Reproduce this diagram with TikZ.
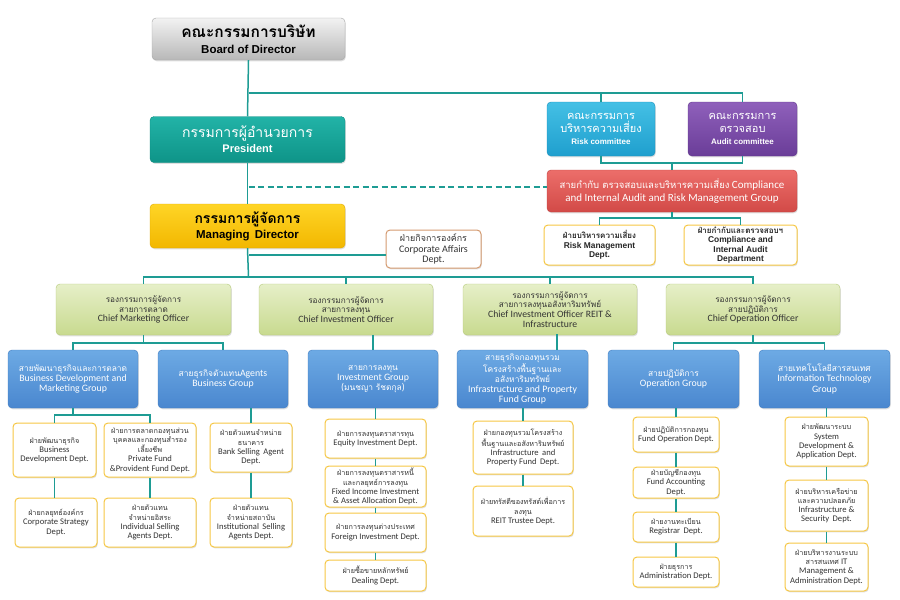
\documentclass[tikz,border=0pt]{standalone}
\usepackage{fontspec}
\setmainfont{Carlito}
\newfontfamily\thai[Script=Thai]{Loma}
\newfontfamily\tah{Liberation Sans}
\usetikzlibrary{shadows}
\newcommand\fs[2]{\fontsize{#1}{#2}\selectfont}
\def\thsz{7}\def\thbs{9}
\newcommand\thx[1]{{\thai\fontsize{\thsz}{\thbs}\selectfont #1}}
\definecolor{lineteal}{HTML}{1E9C94}
\definecolor{yb}{HTML}{F6C744}
\definecolor{presT}{HTML}{22B3A7}
\definecolor{presB}{HTML}{0E9488}
\definecolor{presD}{HTML}{0C8A80}
\definecolor{mdT}{HTML}{FFD526}
\definecolor{mdB}{HTML}{F2B700}
\definecolor{mdD}{HTML}{E0A800}
\definecolor{rkT}{HTML}{44C0E5}
\definecolor{rkB}{HTML}{1F9FCE}
\definecolor{rkD}{HTML}{1B90BC}
\definecolor{auT}{HTML}{8F60BB}
\definecolor{auB}{HTML}{6A3D98}
\definecolor{auD}{HTML}{5E358A}
\definecolor{coT}{HTML}{EC6E6A}
\definecolor{coB}{HTML}{D24A47}
\definecolor{coD}{HTML}{C04140}
\definecolor{grT}{HTML}{E6EFC8}
\definecolor{grB}{HTML}{C8DA8F}
\definecolor{grD}{HTML}{B5C97A}
\definecolor{blT}{HTML}{6DAAE4}
\definecolor{blB}{HTML}{4A87CF}
\definecolor{blD}{HTML}{3F7BC0}
\definecolor{caD}{HTML}{D49A70}
\tikzset{
  conn/.style={draw=lineteal, line width=1.5pt},
  base/.style={rounded corners=4pt, align=center, inner sep=1pt,
    drop shadow={opacity=0.25, shadow xshift=0.8pt, shadow yshift=-1.3pt}},
  boardbox/.style={base, top color=black!5, bottom color=black!28, draw=black!35,
    font=\tah\bfseries\fs{11.5}{14}},
  presbox/.style={base, top color=presT, bottom color=presB, draw=presD, text=white,
    font=\tah\bfseries\fs{11}{14}},
  mdbox/.style={base, top color=mdT, bottom color=mdB, draw=mdD,
    font=\tah\bfseries\fs{11.5}{14}},
  riskbox/.style={base, top color=rkT, bottom color=rkB, draw=rkD, text=white,
    font=\tah\bfseries\fs{8}{12.5}},
  auditbox/.style={base, top color=auT, bottom color=auB, draw=auD, text=white,
    font=\tah\bfseries\fs{8}{12.5}},
  compbox/.style={base, top color=coT, bottom color=coB, draw=coD, text=white,
    font=\fs{11}{12.5}\def\thsz{9.5}\def\thbs{12.5}},
  rdept/.style={base, fill=white, draw=yb, line width=1pt, text=black!85,
    font=\tah\bfseries\fs{8.4}{9.3}\def\thsz{8}\def\thbs{9.3}},
  greenbox/.style={base, top color=grT, bottom color=grB, draw=grD, text=black!80,
    font=\fs{9.7}{9.8}\def\thsz{8.2}\def\thbs{9.8}},
  bluebox/.style={base, top color=blT, bottom color=blB, draw=blD, text=white,
    font=\fs{9.8}{10.2}\def\thsz{8.4}\def\thbs{10.2}},
  deptbox/.style={base, fill=white, draw=yb, line width=1pt, text=black!80,
    font=\fs{8.6}{9.2}\def\thsz{7.2}\def\thbs{9.2}},
  cabox/.style={base, fill=white, draw=caD, line width=1pt, text=black!80,
    font=\fs{10}{10.8}\def\thsz{8.9}\def\thbs{10.8}},
}
\begin{document}
\begin{tikzpicture}[x=1pt,y=-1pt]
\useasboundingbox (0,0) rectangle (900,600);
% ---- top level
\node[boardbox, minimum width=193, minimum height=42] (board) at (248.5,39)
  {{\thai\bfseries\fs{15.5}{17}คณะกรรมการบริษัท}\\[2.5pt]Board of Director};
\node[presbox, minimum width=195, minimum height=46] (pres) at (247.5,139.5)
  {{\thai\mdseries\fs{14}{16}กรรมการผู้อำนวยการ}\\[1pt]President};
\node[mdbox, minimum width=195, minimum height=44] (md) at (247.5,226)
  {{\thai\bfseries\fs{14}{16}กรรมการผู้จัดการ}\\[1pt]Managing\, Director};
\node[cabox, minimum width=95, minimum height=38] (ca) at (433.5,249)
  {\thx{ฝ่ายกิจการองค์กร}\\Corporate Affairs\\Dept.};
\node[riskbox, minimum width=108, minimum height=54] (risk) at (601,129)
  {{\thai\mdseries\fs{11}{12}คณะกรรมการ}\\{\thai\mdseries\fs{11}{12}บริหารความเสี่ยง}\\Risk committee};
\node[auditbox, minimum width=109, minimum height=54] (audit) at (742.5,129)
  {{\thai\mdseries\fs{11}{12}คณะกรรมการ}\\{\thai\mdseries\fs{11}{12}ตรวจสอบ}\\Audit committee};
\node[compbox, minimum width=250, minimum height=42] (comp) at (672,191)
  {\thx{สายกำกับ ตรวจสอบและบริหารความเสี่ยง} Compliance\\and Internal Audit and Risk Management Group};
\node[rdept, minimum width=111, minimum height=40] (rmd) at (599.5,245)
  {\thx{ฝ่ายบริหารความเสี่ยง}\\Risk Management\\Dept.};
\node[rdept, minimum width=113, minimum height=40] (cad) at (740.5,245)
  {\thx{ฝ่ายกำกับและตรวจสอบฯ}\\Compliance and\\Internal Audit\\Department};
% ---- level 2
\node[greenbox, minimum width=175, minimum height=51] (cmo) at (143.5,309.5)
  {\thx{รองกรรมการผู้จัดการ}\\\thx{สายการตลาด}\\Chief Marketing Officer};
\node[greenbox, minimum width=174, minimum height=51] (cio) at (346,309.5)
  {\thx{รองกรรมการผู้จัดการ}\\\thx{สายการลงทุน}\\Chief Investment Officer};
\node[greenbox, minimum width=174, minimum height=51] (reit) at (550,309.5)
  {\thx{รองกรรมการผู้จัดการ}\\\thx{สายการลงทุนอสังหาริมทรัพย์}\\Chief Investment Officer REIT \&\\Infrastructure};
\node[greenbox, minimum width=174, minimum height=51] (coo) at (753,309.5)
  {\thx{รองกรรมการผู้จัดการ}\\\thx{สายปฏิบัติการ}\\Chief Operation Officer};
% ---- level 3
\node[bluebox, minimum width=130, minimum height=58] (bdm) at (73,379)
  {\thx{สายพัฒนาธุรกิจและการตลาด}\\Business Development and\\Marketing Group};
\node[bluebox, minimum width=130, minimum height=58] (agb) at (223,379)
  {\thx{สายธุรกิจตัวแทน}Agents\\Business Group};
\node[bluebox, minimum width=130, minimum height=58] (inv) at (373,379)
  {\thx{สายการลงทุน}\\Investment Group\\(\thx{มนชญา รัชตกุล})};
\node[bluebox, minimum width=131, minimum height=58] (ipg) at (522.5,379)
  {\thx{สายธุรกิจกองทุนรวม}\\\thx{โครงสร้างพื้นฐานและ}\\\thx{อสังหาริมทรัพย์}\\Infrastructure and Property\\Fund Group};
\node[bluebox, minimum width=131, minimum height=58] (opg) at (673.5,379)
  {\thx{สายปฏิบัติการ}\\Operation Group};
\node[bluebox, minimum width=131, minimum height=58] (itg) at (824.5,379)
  {\thx{สายเทคโนโลยีสารสนเทศ}\\Information Technology\\Group};
% ---- level 4
\node[deptbox, minimum width=83, minimum height=54] (bdd) at (54.5,450)
  {\thx{ฝ่ายพัฒนาธุรกิจ}\\Business\\Development Dept.};
\node[deptbox, minimum width=92, minimum height=54] (pfd) at (150,450)
  {\thx{ฝ่ายการตลาดกองทุนส่วน}\\\thx{บุคคลและกองทุนสำรอง}\\\thx{เลี้ยงชีพ}\\Private Fund\\\&Provident Fund Dept.};
\node[deptbox, minimum width=82, minimum height=49] (css) at (56,522.5)
  {\thx{ฝ่ายกลยุทธ์องค์กร}\\Corporate Strategy\\Dept.};
\node[deptbox, minimum width=92, minimum height=49] (isd) at (150,522.5)
  {\thx{ฝ่ายตัวแทน}\\\thx{จำหน่ายอิสระ}\\Individual Selling\\Agents Dept.};
\node[deptbox, minimum width=82, minimum height=49] (bsa) at (251,447.5)
  {\thx{ฝ่ายตัวแทนจำหน่าย}\\\thx{ธนาคาร}\\Bank Selling\, Agent\\Dept.};
\node[deptbox, minimum width=82, minimum height=49] (ins) at (251,522.5)
  {\thx{ฝ่ายตัวแทน}\\\thx{จำหน่ายสถาบัน}\\Institutional\, Selling\\Agents Dept.};
\node[deptbox, minimum width=101, minimum height=39] (eq) at (375.5,438.5)
  {\thx{ฝ่ายการลงทุนตราสารทุน}\\Equity Investment Dept.};
\node[deptbox, minimum width=101, minimum height=41] (fi) at (375.5,486.5)
  {\thx{ฝ่ายการลงทุนตราสารหนี้}\\\thx{และกลยุทธ์การลงทุน}\\Fixed Income Investment\\\& Asset Allocation Dept.};
\node[deptbox, minimum width=101, minimum height=39] (fo) at (375.5,532.5)
  {\thx{ฝ่ายการลงทุนต่างประเทศ}\\Foreign Investment Dept.};
\node[deptbox, minimum width=101, minimum height=31] (dl) at (375.5,575.5)
  {\thx{ฝ่ายซื้อขายหลักทรัพย์}\\Dealing Dept.};
\node[deptbox, minimum width=100, minimum height=53] (ipd) at (523,447.5)
  {\thx{ฝ่ายกองทุนรวมโครงสร้าง}\\\thx{พื้นฐานและอสังหาริมทรัพย์}\\Infrastructure\, and\\Property Fund\, Dept.};
\node[deptbox, minimum width=100, minimum height=50] (rtd) at (523,511)
  {\thx{ฝ่ายทรัสตีของทรัสต์เพื่อการ}\\\thx{ลงทุน}\\REIT Trustee Dept.};
\node[deptbox, minimum width=86, minimum height=35] (fod) at (676,434.5)
  {\thx{ฝ่ายปฏิบัติการกองทุน}\\Fund Operation Dept.};
\node[deptbox, minimum width=86, minimum height=31] (fad) at (676,482.5)
  {\thx{ฝ่ายบัญชีกองทุน}\\Fund Accounting\\Dept.};
\node[deptbox, minimum width=86, minimum height=30] (reg) at (676,527)
  {\thx{ฝ่ายงานทะเบียน}\\Registrar\, Dept.};
\node[deptbox, minimum width=86, minimum height=30] (adm) at (676,572)
  {\thx{ฝ่ายธุรการ}\\Administration Dept.};
\node[deptbox, minimum width=83, minimum height=49] (sdd) at (826.5,441.5)
  {\thx{ฝ่ายพัฒนาระบบ}\\System\\Development \&\\Application Dept.};
\node[deptbox, minimum width=83, minimum height=51] (isec) at (826.5,505.5)
  {\thx{ฝ่ายบริหารเครือข่าย}\\\thx{และความปลอดภัย}\\Infrastructure \&\\Security\, Dept.};
\node[deptbox, minimum width=83, minimum height=48] (itm) at (826.5,567)
  {\thx{ฝ่ายบริหารงานระบบ}\\\thx{สารสนเทศ} IT\\Management \&\\Administration Dept.};
% ---- coordinates
\coordinate (j1) at (248.5,93);
\coordinate (d1) at (248.5,187);
\coordinate (j2) at (672,163);
\coordinate (j3) at (672,218);
\coordinate (j4) at (248.5,255);
\coordinate (bus) at (248.5,277);
\coordinate (j5) at (143.5,343);
\coordinate (j6) at (557,334);
\coordinate (j7) at (753,343);
\coordinate (j8) at (73,415);
% ---- connectors
\draw[conn] (board.south) -- (pres.north);
\draw[conn] (pres.south) -- (md.north);
\draw[conn] (j1) -| (risk.north);
\draw[conn] (j1) -| (audit.north);
\draw[conn, dash pattern=on 6pt off 3.5pt] (d1) -- (d1 -| comp.west);
\draw[conn] (risk.south) |- (audit.south |- j2) -- (audit.south);
\draw[conn] (j2) -- (comp.north);
\draw[conn] (comp.south) -- (j3);
\draw[conn] (rmd.north) |- (j3) -| (cad.north);
\draw[conn] (j4) -- (j4 -| ca.west);
\draw[conn] (md.south) -- (bus);
\draw[conn] (cmo.north) |- (bus) -| (coo.north);
\draw[conn] (cio.north) -- (cio.north |- bus);
\draw[conn] (reit.north) -- (reit.north |- bus);
\draw[conn] (cmo.south) -- (j5);
\draw[conn] (bdm.north) |- (j5) -| (agb.north);
\draw[conn] (cio.south -| inv.north) -- (inv.north);
\draw[conn] (j6) -- (j6 |- ipg.north);
\draw[conn] (coo.south) -- (j7);
\draw[conn] (opg.north) |- (j7) -| (itg.north);
\draw[conn] (bdm.south) -- (j8);
\draw[conn] (bdd.north) |- (j8) -| (pfd.north);
\draw[conn] (bdd.south) -- (bdd.south |- css.north);
\draw[conn] (pfd.south) -- (isd.north);
\draw[conn] (bsa.north |- agb.south) -- (bsa.north);
\draw[conn] (bsa.south) -- (ins.north);
\draw[conn] (eq.north |- inv.south) -- (eq.north);
\draw[conn] (eq.south) -- (fi.north);
\draw[conn] (fi.south) -- (fo.north);
\draw[conn] (fo.south) -- (dl.north);
\draw[conn] (ipd.north |- ipg.south) -- (ipd.north);
\draw[conn] (ipd.south) -- (rtd.north);
\draw[conn] (fod.north |- opg.south) -- (fod.north);
\draw[conn] (fod.south) -- (fad.north);
\draw[conn] (fad.south) -- (reg.north);
\draw[conn] (reg.south) -- (adm.north);
\draw[conn] (sdd.north |- itg.south) -- (sdd.north);
\draw[conn] (sdd.south) -- (isec.north);
\draw[conn] (isec.south) -- (itm.north);
\end{tikzpicture}
\end{document}
